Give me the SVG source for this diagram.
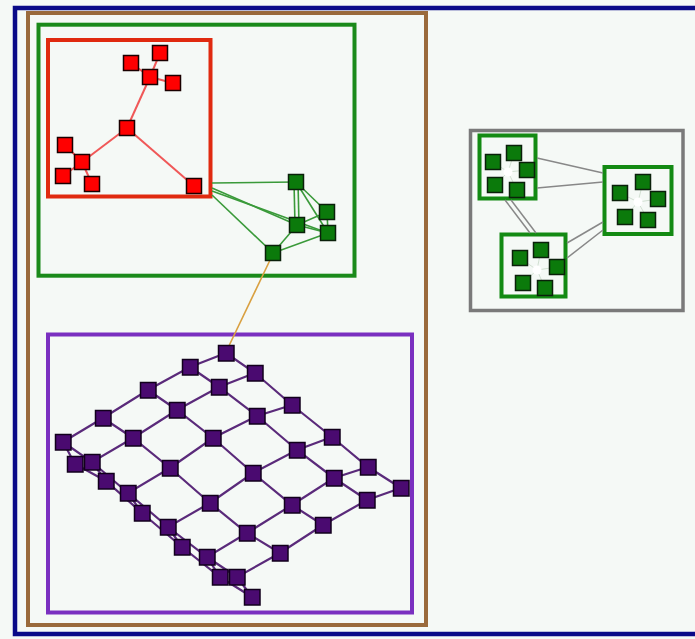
<svg xmlns="http://www.w3.org/2000/svg" width="695" height="639" viewBox="0 0 695 639">
<style>
.bg{fill:#f5f9f6}
.box{fill:none}
.rn{fill:#ff0000;stroke:#1a0000;stroke-width:1.5}
.gn{fill:#0b7a0b;stroke:#0a200a;stroke-width:1.5}
.pn{fill:#4a0a70;stroke:#12001c;stroke-width:1.5}
.re{stroke:#f05858;stroke-width:2;fill:none}
.ge{stroke:#3a9a3a;stroke-width:1.6;fill:none}
.pe{stroke:#5a2a7a;stroke-width:2.2;fill:none}
.ce{stroke:#888;stroke-width:1.5;fill:none}
.ie{stroke:#c8d8c8;stroke-width:0.8;fill:none}
</style>
<rect class="bg" x="0" y="0" width="695" height="639"/>
<g id="clusters">
<rect id="root" class="box" x="15" y="8" width="700" height="626" stroke="#0a0a88" stroke-width="4.5"/>
<rect id="brown" class="box" x="28" y="13" width="398" height="612" stroke="#9a6a3c" stroke-width="4"/>
<rect id="green" class="box" x="38.5" y="24.7" width="316" height="251" stroke="#1a8a1a" stroke-width="4"/>
<rect id="red" class="box" x="48" y="40" width="162.5" height="156.5" stroke="#e02a10" stroke-width="4"/>
<rect id="purple" class="box" x="48" y="334.5" width="364" height="278" stroke="#7a30c0" stroke-width="4"/>
<rect id="gray" class="box" x="470.5" y="130.5" width="212.5" height="180" stroke="#7a7a7a" stroke-width="3.5"/>
<rect id="subA" x="479.5" y="135.5" width="56" height="63" fill="#f5f9f6" stroke="#138a13" stroke-width="4"/>
<rect id="subB" x="604.5" y="167" width="67" height="67" fill="#f5f9f6" stroke="#138a13" stroke-width="4"/>
<rect id="subC" x="501.5" y="234.5" width="64" height="62" fill="#f5f9f6" stroke="#138a13" stroke-width="4"/>
</g>
<g id="connectors">
<line class="re" x1="127" y1="128" x2="150" y2="77"/>
<line class="re" x1="127" y1="128" x2="82" y2="162"/>
<line class="re" x1="127" y1="128" x2="194" y2="186"/>
<line class="re" x1="150" y1="77" x2="131" y2="63"/>
<line class="re" x1="150" y1="77" x2="160" y2="53"/>
<line class="re" x1="150" y1="77" x2="173" y2="83"/>
<line class="re" x1="82" y1="162" x2="65" y2="145"/>
<line class="re" x1="82" y1="162" x2="63" y2="176"/>
<line class="re" x1="82" y1="162" x2="92" y2="184"/>
<line class="ge" x1="212" y1="183" x2="296" y2="182"/>
<line class="ge" x1="212" y1="188" x2="297" y2="225"/>
<line class="ge" x1="212" y1="191" x2="328" y2="233"/>
<line class="ge" x1="212" y1="195" x2="273" y2="253"/>
<line class="ge" x1="294" y1="182" x2="295" y2="225"/>
<line class="ge" x1="298" y1="182" x2="299" y2="225"/>
<line class="ge" x1="296" y1="182" x2="327" y2="212"/>
<line class="ge" x1="296" y1="182" x2="328" y2="233"/>
<line class="ge" x1="297" y1="225" x2="327" y2="212"/>
<line class="ge" x1="297" y1="225" x2="328" y2="233"/>
<line class="ge" x1="273" y1="253" x2="297" y2="225"/>
<line class="ge" x1="273" y1="253" x2="328" y2="233"/>
<line class="ge" x1="327" y1="212" x2="328" y2="233"/>
<line stroke="#d9a040" stroke-width="1.6" x1="271" y1="258" x2="227" y2="350"/>
<line class="ce" x1="537" y1="158" x2="603" y2="173"/>
<line class="ce" x1="537" y1="188" x2="603" y2="182"/>
<line class="ce" x1="505" y1="200" x2="530" y2="233"/>
<line class="ce" x1="511" y1="200" x2="536" y2="233"/>
<line class="ce" x1="603" y1="222" x2="567" y2="243"/>
<line class="ce" x1="603" y1="230" x2="567" y2="258"/>
<g id="purple-edges">
<polyline class="pe" points="226,353 255,373 292,405 332,437 368,467 401,488"/>
<polyline class="pe" points="190,367 219,387 257,416 297,450 334,478 367,500"/>
<polyline class="pe" points="148,390 177,410 213,438 253,473 292,505 323,525"/>
<polyline class="pe" points="103,418 133,438 170,468 210,503 247,533 280,553"/>
<polyline class="pe" points="63,442 92,462 128,493 168,527 207,557 237,577"/>
<polyline class="pe" points="75,464 106,481 142,513 182,547 220,577 252,597"/>
<polyline class="pe" points="226,353 190,367 148,390 103,418 63,442 75,464"/>
<polyline class="pe" points="255,373 219,387 177,410 133,438 92,462 106,481"/>
<polyline class="pe" points="292,405 257,416 213,438 170,468 128,493 142,513"/>
<polyline class="pe" points="332,437 297,450 253,473 210,503 168,527 182,547"/>
<polyline class="pe" points="368,467 334,478 292,505 247,533 207,557 220,577"/>
<polyline class="pe" points="401,488 367,500 323,525 280,553 237,577 252,597"/>
</g>
</g>
<g id="red-nodes">
<rect id="r0" class="rn" x="119.5" y="120.5" width="15" height="15"/>
<rect id="r1" class="rn" x="123.5" y="55.5" width="15" height="15"/>
<rect id="r2" class="rn" x="152.5" y="45.5" width="15" height="15"/>
<rect id="r3" class="rn" x="142.5" y="69.5" width="15" height="15"/>
<rect id="r4" class="rn" x="165.5" y="75.5" width="15" height="15"/>
<rect id="r5" class="rn" x="57.5" y="137.5" width="15" height="15"/>
<rect id="r6" class="rn" x="74.5" y="154.5" width="15" height="15"/>
<rect id="r7" class="rn" x="55.5" y="168.5" width="15" height="15"/>
<rect id="r8" class="rn" x="84.5" y="176.5" width="15" height="15"/>
<rect id="r9" class="rn" x="186.5" y="178.5" width="15" height="15"/>
</g>
<g id="green-nodes">
<rect id="g1" class="gn" x="288.5" y="174.5" width="15" height="15"/>
<rect id="g2" class="gn" x="319.5" y="204.5" width="15" height="15"/>
<rect id="g3" class="gn" x="289.5" y="217.5" width="15" height="15"/>
<rect id="g4" class="gn" x="320.5" y="225.5" width="15" height="15"/>
<rect id="g5" class="gn" x="265.5" y="245.5" width="15" height="15"/>
</g>
<g id="subA-nodes">
<line class="ie" x1="508" y1="172" x2="493" y2="162"/><line class="ie" x1="508" y1="172" x2="514" y2="153"/><line class="ie" x1="508" y1="172" x2="527" y2="170"/><line class="ie" x1="508" y1="172" x2="517" y2="190"/><line class="ie" x1="508" y1="172" x2="495" y2="185"/>
<rect class="gn" x="485.5" y="154.5" width="15" height="15"/>
<rect class="gn" x="506.5" y="145.5" width="15" height="15"/>
<rect class="gn" x="519.5" y="162.5" width="15" height="15"/>
<rect class="gn" x="509.5" y="182.5" width="15" height="15"/>
<rect class="gn" x="487.5" y="177.5" width="15" height="15"/>
<circle cx="508" cy="172" r="4.5" fill="#fff"/>
</g>
<g id="subB-nodes">
<line class="ie" x1="638" y1="202" x2="620" y2="193"/><line class="ie" x1="638" y1="202" x2="643" y2="182"/><line class="ie" x1="638" y1="202" x2="658" y2="199"/><line class="ie" x1="638" y1="202" x2="648" y2="220"/><line class="ie" x1="638" y1="202" x2="625" y2="217"/>
<rect class="gn" x="612.5" y="185.5" width="15" height="15"/>
<rect class="gn" x="635.5" y="174.5" width="15" height="15"/>
<rect class="gn" x="650.5" y="191.5" width="15" height="15"/>
<rect class="gn" x="640.5" y="212.5" width="15" height="15"/>
<rect class="gn" x="617.5" y="209.5" width="15" height="15"/>
<circle cx="638" cy="202" r="4.5" fill="#fff"/>
</g>
<g id="subC-nodes">
<line class="ie" x1="537" y1="270" x2="520" y2="258"/><line class="ie" x1="537" y1="270" x2="541" y2="250"/><line class="ie" x1="537" y1="270" x2="557" y2="267"/><line class="ie" x1="537" y1="270" x2="545" y2="288"/><line class="ie" x1="537" y1="270" x2="523" y2="283"/>
<rect class="gn" x="512.5" y="250.5" width="15" height="15"/>
<rect class="gn" x="533.5" y="242.5" width="15" height="15"/>
<rect class="gn" x="549.5" y="259.5" width="15" height="15"/>
<rect class="gn" x="537.5" y="280.5" width="15" height="15"/>
<rect class="gn" x="515.5" y="275.5" width="15" height="15"/>
<circle cx="537" cy="270" r="4.5" fill="#fff"/>
</g>
<g id="purple-nodes">
<rect class="pn" x="218.5" y="345.5" width="15.5" height="15.5"/>
<rect class="pn" x="247.5" y="365.5" width="15.5" height="15.5"/>
<rect class="pn" x="284.5" y="397.5" width="15.5" height="15.5"/>
<rect class="pn" x="324.5" y="429.5" width="15.5" height="15.5"/>
<rect class="pn" x="360.5" y="459.5" width="15.5" height="15.5"/>
<rect class="pn" x="393.5" y="480.5" width="15.5" height="15.5"/>
<rect class="pn" x="182.5" y="359.5" width="15.5" height="15.5"/>
<rect class="pn" x="211.5" y="379.5" width="15.5" height="15.5"/>
<rect class="pn" x="249.5" y="408.5" width="15.5" height="15.5"/>
<rect class="pn" x="289.5" y="442.5" width="15.5" height="15.5"/>
<rect class="pn" x="326.5" y="470.5" width="15.5" height="15.5"/>
<rect class="pn" x="359.5" y="492.5" width="15.5" height="15.5"/>
<rect class="pn" x="140.5" y="382.5" width="15.5" height="15.5"/>
<rect class="pn" x="169.5" y="402.5" width="15.5" height="15.5"/>
<rect class="pn" x="205.5" y="430.5" width="15.5" height="15.5"/>
<rect class="pn" x="245.5" y="465.5" width="15.5" height="15.5"/>
<rect class="pn" x="284.5" y="497.5" width="15.5" height="15.5"/>
<rect class="pn" x="315.5" y="517.5" width="15.5" height="15.5"/>
<rect class="pn" x="95.5" y="410.5" width="15.5" height="15.5"/>
<rect class="pn" x="125.5" y="430.5" width="15.5" height="15.5"/>
<rect class="pn" x="162.5" y="460.5" width="15.5" height="15.5"/>
<rect class="pn" x="202.5" y="495.5" width="15.5" height="15.5"/>
<rect class="pn" x="239.5" y="525.5" width="15.5" height="15.5"/>
<rect class="pn" x="272.5" y="545.5" width="15.5" height="15.5"/>
<rect class="pn" x="55.5" y="434.5" width="15.5" height="15.5"/>
<rect class="pn" x="84.5" y="454.5" width="15.5" height="15.5"/>
<rect class="pn" x="120.5" y="485.5" width="15.5" height="15.5"/>
<rect class="pn" x="160.5" y="519.5" width="15.5" height="15.5"/>
<rect class="pn" x="199.5" y="549.5" width="15.5" height="15.5"/>
<rect class="pn" x="229.5" y="569.5" width="15.5" height="15.5"/>
<rect class="pn" x="67.5" y="456.5" width="15.5" height="15.5"/>
<rect class="pn" x="98.5" y="473.5" width="15.5" height="15.5"/>
<rect class="pn" x="134.5" y="505.5" width="15.5" height="15.5"/>
<rect class="pn" x="174.5" y="539.5" width="15.5" height="15.5"/>
<rect class="pn" x="212.5" y="569.5" width="15.5" height="15.5"/>
<rect class="pn" x="244.5" y="589.5" width="15.5" height="15.5"/>
</g>
</svg>
